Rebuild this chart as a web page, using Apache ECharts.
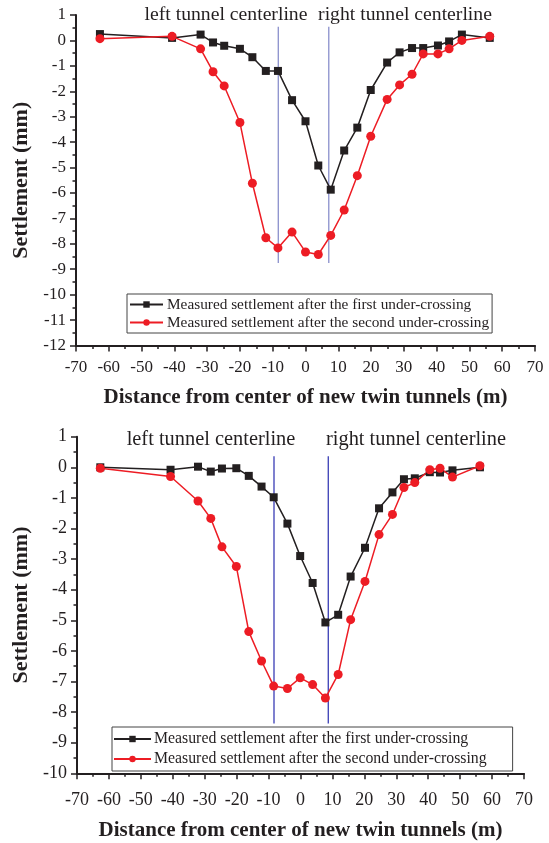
<!DOCTYPE html>
<html>
<head>
<meta charset="utf-8">
<script src="https://cdn.jsdelivr.net/npm/echarts@6/dist/echarts.min.js"></script>
<style>
html, body { margin: 0; padding: 0; background: #fff; }
#chart { width: 549px; height: 843px; }
</style>
</head>
<body>
<div id="chart"></div>
<script>
var distTop = [-62.7, -40.7, -32, -28.2, -24.8, -20, -16.2, -12.1, -8.4, -4.1, 0, 3.9, 7.7, 11.8, 15.8, 19.9, 24.9, 28.7, 32.5, 35.9, 40.4, 43.8, 47.7, 56.2];
var firstTop = [0.25, 0.1, 0.23, -0.08, -0.21, -0.33, -0.66, -1.2, -1.2, -2.35, -3.18, -4.92, -5.87, -4.33, -3.43, -1.95, -0.87, -0.47, -0.3, -0.3, -0.2, -0.04, 0.23, 0.1];
var secondTop = [0.07, 0.16, -0.33, -1.23, -1.79, -3.23, -5.62, -7.76, -8.16, -7.54, -8.32, -8.42, -7.67, -6.67, -5.32, -3.77, -2.32, -1.75, -1.33, -0.53, -0.53, -0.33, 0.0, 0.16];

var distBottom = [-62.7, -40.7, -32.1, -28.1, -24.6, -20.1, -16.2, -12.2, -8.4, -4.1, -0.1, 3.8, 7.8, 11.8, 15.7, 20.2, 24.6, 28.8, 32.4, 35.8, 40.5, 43.7, 47.6, 56.2];
var firstBottom = [0, -0.08, 0.02, -0.14, -0.04, -0.03, -0.28, -0.63, -0.98, -1.84, -2.9, -3.78, -5.07, -4.82, -3.57, -2.63, -1.34, -0.82, -0.39, -0.36, -0.16, -0.17, -0.1, 0.0];
var secondBottom = [-0.03, -0.3, -1.1, -1.67, -2.6, -3.24, -5.37, -6.33, -7.15, -7.23, -6.88, -7.1, -7.54, -6.77, -4.98, -3.73, -2.2, -1.54, -0.66, -0.5, -0.08, -0.03, -0.32, 0.05];

// tunnel centerlines: x position and vertical extent
var tunnelTop = [-8.3, 7.1];
var tunnelSpanTop = [0.54, -8.75];
var tunnelBottom = [-8.3, 8.7];
var tunnelSpanBottom = [0.36, -8.37];

var names = ['Measured settlement after the first under-crossing', 'Measured settlement after the second under-crossing'];
var tunnelLabels = ['left tunnel centerline', 'right tunnel centerline'];

var ink = '#231f20';
var red = '#ed1c24';
var serif = '"Liberation Serif", "DejaVu Serif", serif';

function pairs(xs, ys) {
    var out = [];
    for (var i = 0; i < xs.length; i++) out.push([xs[i], ys[i]]);
    return out;
}

function xAxisOf(g, size, margin, gap) {
    return {
        type: 'value', gridIndex: g, min: -70, max: 70, interval: 10,
        name: 'Distance from center of new twin tunnels (m)',
        nameLocation: 'middle', nameGap: gap,
        nameTextStyle: { fontFamily: serif, fontWeight: 'bold', fontSize: 21, color: ink },
        axisLine: { onZero: false, lineStyle: { color: ink, width: 2 } },
        axisTick: { length: 6, lineStyle: { color: ink, width: 1.5 } },
        minorTick: { show: true, splitNumber: 2, length: 3.5, lineStyle: { color: ink, width: 1.5 } },
        axisLabel: { fontFamily: serif, fontSize: size, color: ink, margin: margin },
        splitLine: { show: false }
    };
}

function yAxisOf(g, min, size) {
    return {
        type: 'value', gridIndex: g, min: min, max: 1, interval: 1,
        name: 'Settlement (mm)',
        nameLocation: 'middle', nameGap: 40, nameRotate: 90,
        nameTextStyle: { fontFamily: serif, fontWeight: 'bold', fontSize: 22, color: ink },
        axisLine: { onZero: false, lineStyle: { color: ink, width: 2 } },
        axisTick: { length: 6, lineStyle: { color: ink, width: 1.5 } },
        minorTick: { show: true, splitNumber: 2, length: 3.5, lineStyle: { color: ink, width: 1.5 } },
        axisLabel: { fontFamily: serif, fontSize: size, color: ink, margin: 10 },
        splitLine: { show: false }
    };
}

function dataSeries(g, xs, ys, idx) {
    return {
        name: names[idx], type: 'line', xAxisIndex: g, yAxisIndex: g,
        data: pairs(xs, ys),
        symbol: idx === 0 ? 'rect' : 'circle',
        symbolSize: idx === 0 ? 8 : 9,
        color: idx === 0 ? ink : red,
        lineStyle: { width: 1.5 },
        z: 3
    };
}

var series = [
    dataSeries(0, distTop, firstTop, 0),
    dataSeries(0, distTop, secondTop, 1),
    dataSeries(1, distBottom, firstBottom, 0),
    dataSeries(1, distBottom, secondBottom, 1)
];

for (var t = 0; t < 2; t++) {
    series.push({
        type: 'line', xAxisIndex: 0, yAxisIndex: 0, silent: true, symbol: 'none', z: 2,
        data: [[tunnelTop[t], tunnelSpanTop[0]], [tunnelTop[t], tunnelSpanTop[1]]],
        lineStyle: { color: '#8a8fcc', width: 1.3 }
    });
    series.push({
        type: 'line', xAxisIndex: 1, yAxisIndex: 1, silent: true, symbol: 'none', z: 2,
        data: [[tunnelBottom[t], tunnelSpanBottom[0]], [tunnelBottom[t], tunnelSpanBottom[1]]],
        lineStyle: { color: '#3a3db5', width: 1.3 }
    });
}

function label(text, x, y, size) {
    return {
        type: 'text', x: x, y: y,
        style: { text: text, fill: ink, font: size + 'px ' + serif, textAlign: 'center', textVerticalAlign: 'middle' }
    };
}

var myChart = echarts.init(document.getElementById('chart'));

var option = {
    animation: false,
    backgroundColor: '#fff',
    grid: [
        { left: 76, top: 15, width: 459, height: 330.5 },
        { left: 77, top: 436.7, width: 447, height: 336.6 }
    ],
    xAxis: [xAxisOf(0, 17, 14, 42), xAxisOf(1, 18, 18, 47)],
    yAxis: [yAxisOf(0, -12, 17), yAxisOf(1, -10, 18)],
    legend: [
        {
            data: names, orient: 'vertical', left: 127, top: 294,
            borderColor: '#444', borderWidth: 1, padding: [3, 3, 3, 2],
            itemWidth: 33, itemHeight: 8, itemGap: 3,
            textStyle: { fontFamily: serif, fontSize: 15.3, color: ink, padding: [0, 0, 0, -1] }
        },
        {
            data: names, orient: 'vertical', left: 112, top: 727,
            borderColor: '#444', borderWidth: 1, padding: [4, 26, 4, 1],
            itemWidth: 37, itemHeight: 8, itemGap: 4,
            textStyle: { fontFamily: serif, fontSize: 15.8, color: ink, padding: [0, 0, 0, -2] }
        }
    ],
    graphic: [
        label(tunnelLabels[0], 226, 15, 19.7),
        label(tunnelLabels[1], 405, 15, 19.7),
        label(tunnelLabels[0], 211, 440, 20.4),
        label(tunnelLabels[1], 416, 440, 20.4)
    ],
    series: series
};

myChart.setOption(option);
window.addEventListener('resize', function () {
    myChart.resize();
});
</script>
</body>
</html>
